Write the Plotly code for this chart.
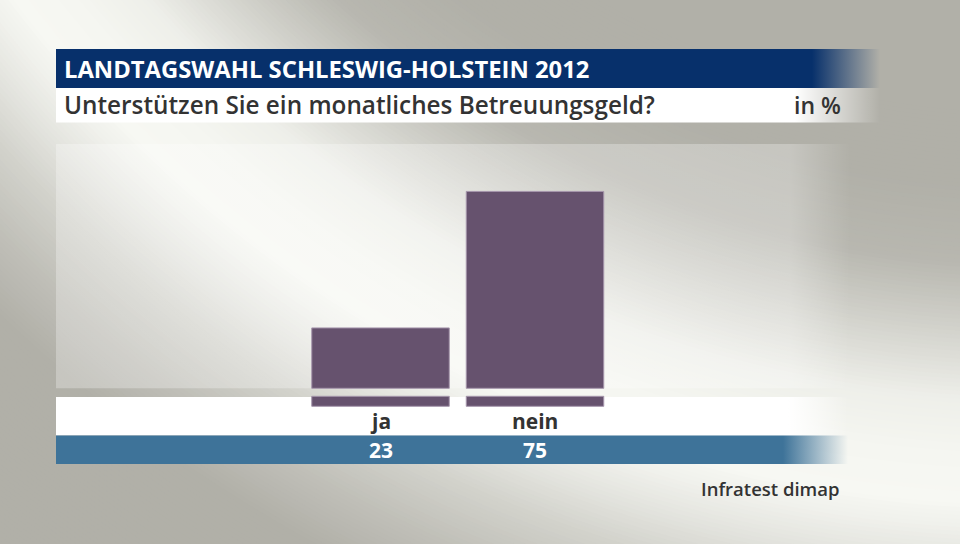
import math
import plotly.graph_objects as go

# ---- data ----
categories = ["ja", "nein"]
values = [23, 75]
title = "LANDTAGSWAHL SCHLESWIG-HOLSTEIN 2012"
subtitle = "Unterstützen Sie ein monatliches Betreuungsgeld?"
unit_label = "in %"
source = "Infratest dimap"

W, H = 960, 544
BASE_PX = 388.3        # pixel row of value 0
PX_PER_UNIT = 2.625    # pixels per percent
CAT_SPACING = 154.5
CAT0_PX = 380.5


def px(x):
    return x / W


def py(y):
    return 1 - y / H


shapes = []

# ---- background: large soft light arc (painted as nested sectors) ----
grey = (175, 174, 166)
light = (247, 248, 243)
CX, CY = 1030, -771
prof_r = [0, 960, 1037, 1089, 1174, 1230, 1275, 1300, 1340, 1380, 1440, 1500, 5000]
prof_v = [176, 177, 184, 204, 238, 245, 247, 240, 226, 210, 192, 177, 176]


def lum(r):
    for i in range(len(prof_r) - 1):
        if prof_r[i] <= r <= prof_r[i + 1]:
            t = (r - prof_r[i]) / (prof_r[i + 1] - prof_r[i])
            return prof_v[i] + t * (prof_v[i + 1] - prof_v[i])
    return prof_v[-1]


a0, a1 = math.radians(70), math.radians(165)
NA = 70
for r in range(1700, 880, -4):
    f = (lum(r) - grey[0]) / (light[0] - grey[0])
    f = max(0.0, min(1.0, f))
    col = tuple(round(g + (l - g) * f) for g, l in zip(grey, light))
    pts = [(px(CX), py(CY))]
    for k in range(NA + 1):
        a = a0 + (a1 - a0) * k / NA
        pts.append((px(CX + r * math.cos(a)), py(CY + r * math.sin(a))))
    path = "M " + " L ".join(f"{a:.5f},{b:.5f}" for a, b in pts) + " Z"
    shapes.append(dict(type="path", path=path, xref="paper", yref="paper",
                       fillcolor=f"rgb{col}", line=dict(width=0), layer="below"))

fig = go.Figure()


def band(x0, xf, x1, y0, y1, rgb, alpha=1.0):
    r, g, b = rgb
    fig.add_trace(go.Scatter(
        x=[x0, x1, x1, x0, x0], y=[y0, y0, y1, y1, y0],
        xaxis="x", yaxis="y",
        mode="lines", line=dict(width=0), fill="toself",
        fillgradient=dict(type="horizontal", start=xf, stop=x1,
                          colorscale=[[0, f"rgba({r},{g},{b},{alpha})"],
                                      [1, f"rgba({r},{g},{b},0)"]]),
        hoverinfo="skip", showlegend=False,
    ))


# chart panel (light overlay)
band(56, 790, 850, 144, 388.3, (255, 255, 255), alpha=0.28)
# title bar
band(56, 812, 880, 49, 88, (7, 48, 107))
# subtitle band
band(56, 795, 880, 88, 122.5, (255, 255, 255))
# label band
band(56, 788, 848, 397, 435.5, (255, 255, 255))
# value band
band(56, 783, 848, 435.5, 464, (62, 115, 153))

bar_color = "#66526e"
edge_color = "#a696ac"
bw = 137.5 / CAT_SPACING
xpos = list(range(len(categories)))

fig.add_trace(go.Bar(
    x=xpos, y=values, width=bw, xaxis="x2", yaxis="y2",
    marker=dict(color=bar_color, line=dict(color=edge_color, width=1)),
    customdata=categories, hovertemplate="%{customdata}: %{y}<extra></extra>",
))
# decorative stub of each bar below the baseline gap
stub_top = (396.3 - BASE_PX) / PX_PER_UNIT
stub_bot = (406.3 - BASE_PX) / PX_PER_UNIT
fig.add_trace(go.Bar(
    x=xpos, y=[stub_bot - stub_top] * len(categories),
    base=[-stub_bot] * len(categories), width=bw, xaxis="x2", yaxis="y2",
    marker=dict(color=bar_color, line=dict(color=edge_color, width=1)),
    hoverinfo="skip",
))

annotations = []
FONT = "Open Sans"
annotations.append(dict(text=title, x=px(62), y=py(69), xref="paper", yref="paper",
                        xanchor="left", yanchor="middle", showarrow=False,
                        font=dict(family=FONT, size=23.8, color="#ffffff", weight=700)))
annotations.append(dict(text=subtitle, x=px(62), y=py(105), xref="paper", yref="paper",
                        xanchor="left", yanchor="middle", showarrow=False,
                        font=dict(family=FONT, size=24.3, color="#333333", weight=600)))
annotations.append(dict(text=unit_label, x=px(843), y=py(105), xref="paper", yref="paper",
                        xanchor="right", yanchor="middle", showarrow=False,
                        font=dict(family=FONT, size=23, color="#333333", weight=600)))
for i, (c, v) in enumerate(zip(categories, values)):
    annotations.append(dict(text=c, x=i, y=py(421), xref="x2", yref="paper",
                            xanchor="center", yanchor="middle", showarrow=False,
                            font=dict(family=FONT, size=21, color="#333333", weight=700)))
    annotations.append(dict(text=str(v), x=i, y=py(450), xref="x2", yref="paper",
                            xanchor="center", yanchor="middle", showarrow=False,
                            font=dict(family=FONT, size=21, color="#ffffff", weight=700)))
annotations.append(dict(text=source, x=px(842), y=py(488), xref="paper", yref="paper",
                        xanchor="right", yanchor="middle", showarrow=False,
                        font=dict(family=FONT, size=18.5, color="#333333", weight=600)))

y_lo = (BASE_PX - H) / PX_PER_UNIT
y_hi = BASE_PX / PX_PER_UNIT
x_lo = -CAT0_PX / CAT_SPACING
x_hi = (W - CAT0_PX) / CAT_SPACING

fig.update_layout(
    width=W, height=H,
    margin=dict(l=0, r=0, t=0, b=0),
    paper_bgcolor="rgb(175,174,166)",
    plot_bgcolor="rgba(0,0,0,0)",
    barmode="overlay",
    showlegend=False,
    shapes=shapes,
    annotations=annotations,
    xaxis=dict(range=[0, W], visible=False, fixedrange=True, domain=[0, 1]),
    yaxis=dict(range=[H, 0], visible=False, fixedrange=True, domain=[0, 1]),
    xaxis2=dict(range=[x_lo, x_hi], visible=False, fixedrange=True, overlaying="x"),
    yaxis2=dict(range=[y_lo, y_hi], visible=False, fixedrange=True, overlaying="y"),
)

fig.write_html("out.html", config={"displayModeBar": False},
               post_script="document.body.style.margin='0';document.body.style.overflow='hidden';")
